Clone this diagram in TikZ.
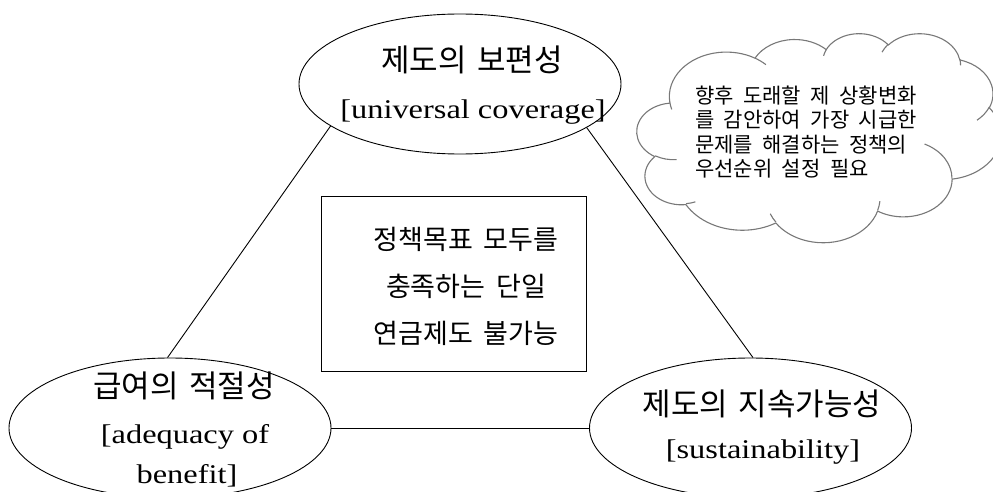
\documentclass[tikz,border=0pt]{standalone}
\usepackage{fontspec}
\usetikzlibrary{shapes.geometric}
\newfontfamily\kr{Noto Sans CJK KR}
\newfontfamily\lat[FakeStretch=1.2]{Liberation Serif}
\definecolor{cloudgray}{RGB}{120,120,120}
\newcommand\ktfont{\kr\fontsize{31}{36}\selectfont\spaceskip 0.35em\relax}
\newcommand\btfont{\kr\fontsize{27}{47}\selectfont\spaceskip 0.4em\relax}
\newcommand\ctfont{\kr\fontsize{21}{24.3}\selectfont\spaceskip 0.45em\relax}
% cloud frame (pixels); shape coordinates in thousandths of a 43.2 frame
\def\cloudL{637}\def\cloudT{33}\def\cloudW{364}\def\cloudH{209}
\newcommand\cmove[2]{%
  \pgfmathsetmacro\cpx{\cloudL+(#1)/43.2*\cloudW}%
  \pgfmathsetmacro\cpy{-\cloudT-(#2)/43.2*\cloudH}%
  \pgfpathmoveto{\pgfpoint{\cpx pt}{\cpy pt}}}
\newcommand\carc[4]{%
  \pgfmathsetmacro\cA{#3}%
  \pgfmathsetmacro\cB{(#3)+(#4)}%
  \pgfmathsetmacro\tA{atan2((#1)*sin(\cA),(#2)*cos(\cA))}%
  \pgfmathsetmacro\tB{atan2((#1)*sin(\cB),(#2)*cos(\cB))}%
  \pgfmathsetmacro\dT{(\tB)-(\tA)}%
  \pgfmathsetmacro\dT{(\dT)-360*round(((\dT)-(#4))/360)}%
  \pgfmathsetmacro\sA{-1*(\tA)}%
  \pgfmathsetmacro\sB{-1*(\tA)-(\dT)}%
  \pgfmathsetmacro\rx{(#1)/43.2*\cloudW}%
  \pgfmathsetmacro\ry{(#2)/43.2*\cloudH}%
  \pgfpatharc{\sA}{\sB}{\rx pt and \ry pt}%
}
\begin{document}
\begin{tikzpicture}[x=1pt,y=-1pt,
  ell/.style={draw, ellipse, minimum width=322pt, minimum height=140pt, inner sep=0pt, line width=0.9pt},
  kt/.style={font=\ktfont, inner sep=0pt},
  lt/.style={font=\lat\fontsize{27}{32}\selectfont, inner sep=0pt},
  bt/.style={font=\btfont, inner sep=0pt, align=center},
  ct/.style={font=\ctfont, inner sep=0pt, align=left, text=black},
  conn/.style={line width=0.9pt},
  centerbox/.style={draw, line width=0.9pt, minimum width=265pt, minimum height=175pt, inner sep=0pt}
]
\useasboundingbox (0,0) rectangle (993,492);

% ellipses
\node[ell] (top) at (460,84) {};
\node[ell] (bl) at (170,428) {};
\node[ell] (br) at (750.5,428) {};

% center box
\node[centerbox] (box) at (453.5,283.5) {};

% cloud (Word-style cloud outline)
\begin{scope}[color=cloudgray, line width=1.1pt]
  \cmove{3.900}{14.370}
  \carc{6.753}{9.190}{-190.4875}{123.7805}
  \carc{5.333}{7.267}{-144.1024}{89.9452}
  \carc{4.365}{5.945}{-145.8079}{99.7230}
  \carc{4.857}{6.595}{-130.9861}{117.2417}
  \carc{5.333}{7.273}{-78.7089}{109.0269}
  \carc{6.775}{9.220}{-46.2673}{130.2690}
  \carc{5.785}{7.867}{0.6250}{114.0333}
  \carc{6.752}{9.215}{22.4516}{115.1726}
  \carc{7.720}{10.543}{66.2426}{75.7110}
  \carc{4.360}{5.918}{-274.9421}{146.7356}
  \carc{4.345}{5.945}{-246.8285}{152.5189}
  \pgfpathclose
  \pgfusepath{stroke}
  \cmove{4.693}{26.177}\carc{4.345}{5.945}{86.7420}{26.4295}
  \cmove{6.928}{34.899}\carc{4.360}{5.918}{73.6105}{11.4475}
  \cmove{16.478}{39.090}\carc{6.752}{9.215}{137.6242}{14.0811}
  \cmove{28.827}{34.751}\carc{6.752}{9.215}{6.4533}{15.9984}
  \cmove{34.129}{22.954}\carc{5.785}{7.867}{-70.2924}{70.9174}
  \cmove{41.798}{15.354}\carc{5.333}{7.273}{30.3180}{27.7515}
  \cmove{38.324}{5.426}\carc{4.857}{6.595}{-13.7443}{14.8589}
  \cmove{29.078}{3.952}\carc{4.857}{6.595}{-149.1815}{18.1954}
  \cmove{22.141}{4.720}\carc{4.365}{5.945}{-163.4943}{17.6864}
  \cmove{14.000}{5.192}\carc{6.753}{9.190}{-66.7070}{12.3194}
  \cmove{4.127}{15.789}\carc{6.753}{9.190}{157.6544}{11.8582}
  \pgfusepath{stroke}
\end{scope}

% connectors
\draw[conn] (top.198) -- (bl.92);
\draw[conn] (top.341) -- (br.88);
\draw[conn] (bl.east) -- (br.west);

% texts
\node[kt] (t1) at (472,60) {제도의 보편성};
\node[lt] (t2) at (473,112) {[universal coverage]};
\node[kt] (l1) at (184,386) {급여의 적절성};
\node[lt] (l2) at (185,437) {[adequacy of};
\node[lt] (l3) at (187,476) {benefit]};
\node[kt] (r1) at (762,404) {제도의 지속가능성};
\node[lt] (r2) at (763,452) {[sustainability]};
\node[bt] (bx) at (466,286) {정책목표 모두를\\충족하는 단일\\연금제도 불가능};
\node[ct, anchor=west] (ctext) at (695,132) {향후 도래할 제 상황변화\\를 감안하여 가장 시급한\\문제를 해결하는 정책의\\우선순위 설정 필요};
\end{tikzpicture}
\end{document}
